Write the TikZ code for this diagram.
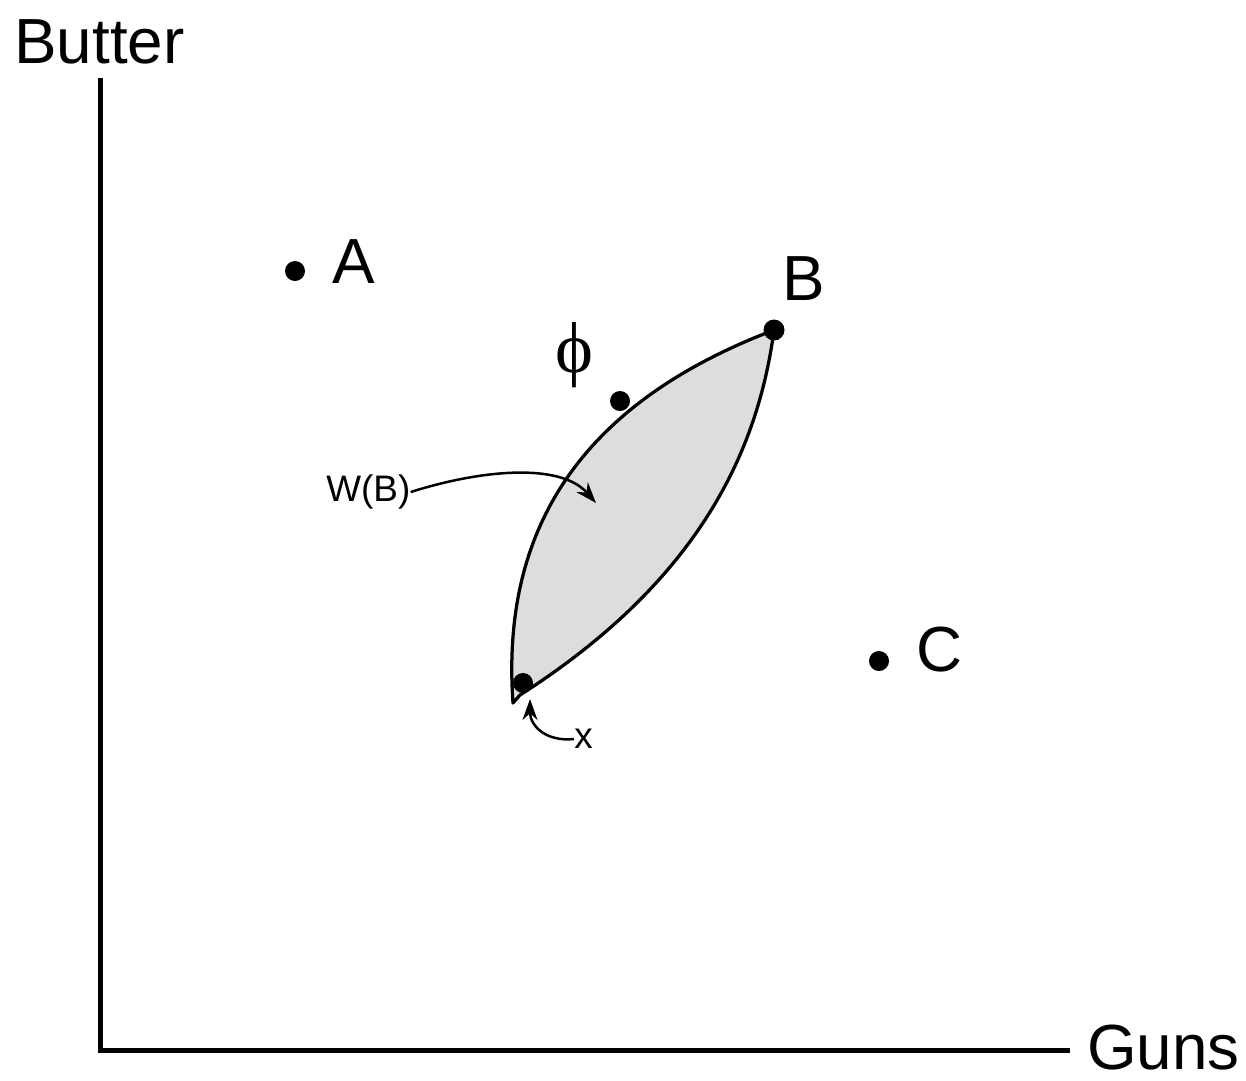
\documentclass[tikz,border=0pt]{standalone}
\usepackage{fontspec}
\setmainfont{Liberation Sans}
\newfontfamily\serifgreek{Liberation Serif}
\usetikzlibrary{arrows.meta}
\begin{document}
\begin{tikzpicture}[x=0.02cm,y=-0.02cm,
  bigtext/.style={font=\fontsize{36.3pt}{40pt}\selectfont, inner sep=0pt, anchor=base west},
  smalltext/.style={font=\fontsize{21pt}{24pt}\selectfont, inner sep=0pt},
  dotnode/.style={circle, fill=black, inner sep=0pt, minimum size=0.4cm},
  axisline/.style={line width=0.1cm},
  lens/.style={line width=0.065cm, fill={rgb,255:red,221;green,221;blue,221}, line join=round},
  callout/.style={line width=0.05cm, -{Stealth[length=0.42cm,width=0.3cm]}}]
\useasboundingbox (0,0) rectangle (1246,1080);
% axes
\coordinate (ytop) at (100,78);
\coordinate (origin) at (100,1050);
\coordinate (xend) at (1070,1050);
\draw[axisline] (ytop) -- (origin) -- (xend);
\node[bigtext] (butter) at (14,63) {Butter};
\node[bigtext] (guns) at (1087,1069) {Guns};
% lens W(B)
\draw[lens] (774,330) .. controls (758,450) and (700,580) .. (520,695) -- (513,703)
  .. controls (500,520) and (590,400) .. (774,330) -- cycle;
% points
\node[dotnode] (A) at (295,271) {};
\node[bigtext] (Alab) at (332,283) {A};
\node[dotnode, minimum size=0.42cm] (B) at (774,330) {};
\node[bigtext] (Blab) at (782,300) {B};
\node[dotnode] (phidot) at (620,401) {};
\node[font=\fontsize{41pt}{44pt}\serifgreek, inner sep=0pt] (philab) at (574,355) {ϕ};
\node[dotnode] (C) at (879,661) {};
\node[bigtext] (Clab) at (916,671) {C};
\node[dotnode] (xdot) at (523,683) {};
% W(B) label and arrow
\node[smalltext, anchor=west] (wb) at (326,492) {W(B)};
\coordinate (wbtip) at (596,503);
\draw[callout] (wb.east) .. controls (480,470) and (560,462) .. (wbtip);
% x label and arrow
\node[smalltext, anchor=west] (xlab) at (574,739) {x};
\coordinate (xtip) at (530,699);
\draw[callout] (xlab.west) .. controls (545,742) and (530,725) .. (xtip);
\end{tikzpicture}
\end{document}
